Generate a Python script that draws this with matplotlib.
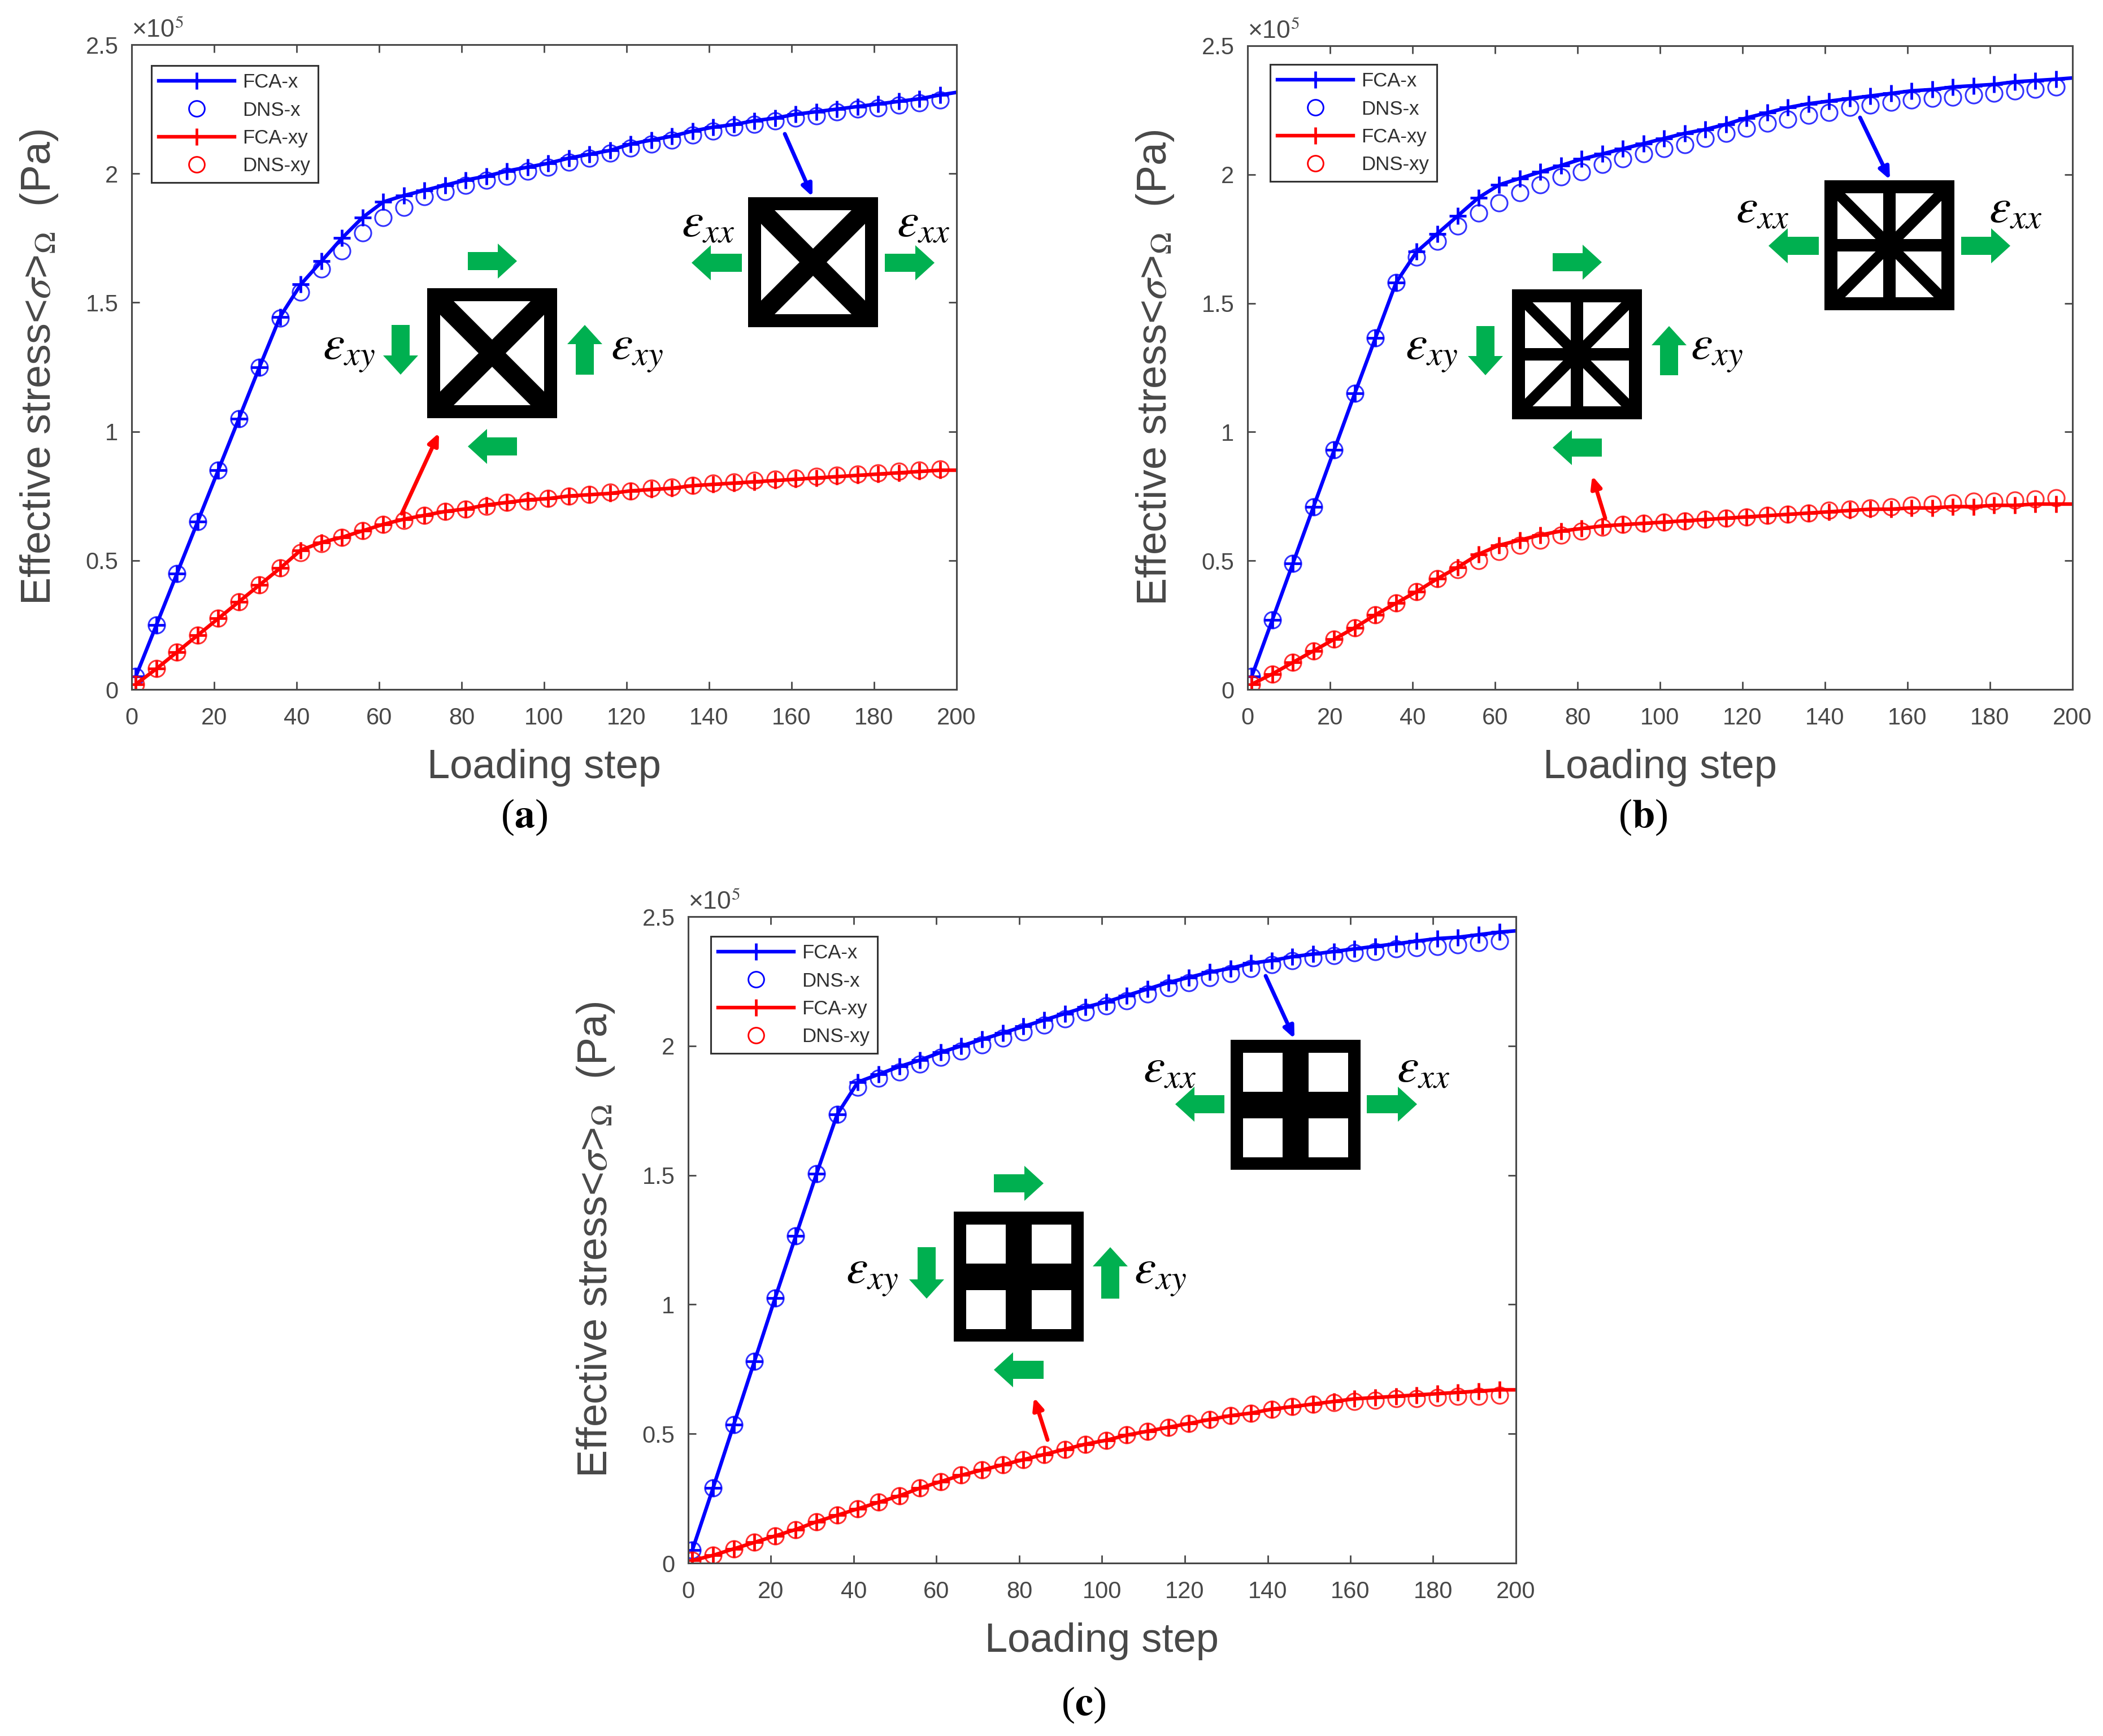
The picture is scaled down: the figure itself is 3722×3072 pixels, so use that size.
import matplotlib
matplotlib.use("Agg")
import matplotlib.pyplot as plt
from matplotlib.patches import Polygon, Rectangle
from matplotlib.lines import Line2D
import numpy as np

plt.rcParams['font.family'] = ['Liberation Sans', 'DejaVu Sans']
plt.rcParams['mathtext.fontset'] = 'stix'

W, H, DPI = 3723, 3072, 100

steps = list(range(1, 197, 5))
x_tick_values = list(range(0, 201, 20))
y_tick_values = [0, 0.5, 1, 1.5, 2, 2.5]
y_tick_labels = ['0', '0.5', '1', '1.5', '2', '2.5']

# panel (a), unit 1e5 Pa
a_fca_x = [.05,.25,.45,.65,.85,1.05,1.25,1.445,1.57,1.66,1.75,1.83,1.89,1.915,1.935,1.955,1.975,1.99,2.01,2.025,
           2.04,2.06,2.075,2.09,2.115,2.13,2.145,2.165,2.18,2.19,2.205,2.215,2.23,2.24,2.25,2.26,2.27,2.28,2.29,2.305]
a_dns_x = [.05,.25,.45,.65,.85,1.05,1.25,1.44,1.54,1.63,1.70,1.77,1.83,1.87,1.91,1.93,1.955,1.975,1.99,2.01,
           2.025,2.045,2.06,2.08,2.10,2.115,2.13,2.15,2.165,2.18,2.19,2.205,2.215,2.225,2.24,2.25,2.255,2.265,2.275,2.285]
a_fca_xy = [.02,.08,.145,.21,.275,.34,.405,.47,.54,.57,.59,.615,.64,.66,.675,.69,.70,.715,.725,.735,
            .74,.75,.755,.76,.77,.775,.78,.79,.795,.80,.805,.81,.815,.82,.825,.83,.835,.84,.845,.85]
a_dns_xy = [.02,.08,.145,.21,.275,.34,.405,.47,.53,.565,.59,.615,.64,.655,.675,.69,.70,.71,.725,.73,
            .74,.75,.755,.765,.77,.78,.785,.79,.80,.805,.81,.815,.82,.825,.83,.835,.84,.845,.85,.855]
a_end = (2.315, .85)

# panel (b)
b_fca_x = [.05,.27,.49,.71,.93,1.15,1.365,1.58,1.70,1.77,1.84,1.91,1.96,1.985,2.01,2.035,2.06,2.08,2.10,2.12,
           2.14,2.16,2.175,2.195,2.22,2.24,2.26,2.275,2.285,2.295,2.305,2.315,2.325,2.33,2.34,2.345,2.35,2.36,2.365,2.37]
b_dns_x = [.05,.27,.49,.71,.93,1.15,1.365,1.58,1.68,1.74,1.80,1.85,1.89,1.93,1.96,1.99,2.01,2.04,2.06,2.08,
           2.10,2.115,2.14,2.16,2.18,2.20,2.215,2.23,2.24,2.26,2.27,2.28,2.29,2.295,2.30,2.31,2.315,2.325,2.33,2.34]
b_fca_xy = [.02,.06,.105,.15,.195,.24,.29,.335,.38,.43,.475,.525,.56,.58,.60,.615,.625,.635,.64,.645,
            .65,.655,.66,.665,.67,.675,.68,.685,.69,.695,.70,.70,.705,.705,.71,.71,.715,.715,.72,.72]
b_dns_xy = [.02,.06,.105,.15,.195,.24,.29,.335,.38,.43,.465,.50,.535,.56,.58,.60,.615,.63,.64,.645,
            .65,.655,.66,.665,.67,.675,.68,.685,.695,.70,.705,.71,.715,.72,.725,.73,.73,.735,.74,.745]
b_end = (2.375, .72)

# panel (c)
c_fca_x = [.05,.29,.535,.78,1.025,1.265,1.505,1.735,1.86,1.89,1.92,1.945,1.975,2.0,2.025,2.05,2.075,2.10,2.125,2.15,
           2.17,2.195,2.22,2.245,2.265,2.285,2.30,2.32,2.33,2.345,2.355,2.365,2.375,2.385,2.395,2.405,2.415,2.42,2.43,2.44]
c_dns_x = [.05,.29,.535,.78,1.025,1.265,1.505,1.735,1.84,1.875,1.90,1.93,1.955,1.98,2.005,2.03,2.055,2.08,2.105,2.13,
           2.155,2.175,2.20,2.225,2.245,2.265,2.28,2.30,2.315,2.33,2.34,2.35,2.36,2.365,2.375,2.38,2.385,2.39,2.40,2.405]
c_fca_xy = [.01,.03,.055,.08,.105,.13,.16,.185,.21,.235,.26,.29,.315,.34,.36,.38,.40,.42,.44,.46,
            .475,.495,.51,.525,.54,.555,.57,.58,.595,.605,.615,.625,.635,.64,.645,.65,.655,.66,.665,.67]
c_dns_xy = [.01,.03,.055,.08,.105,.13,.16,.185,.21,.235,.26,.29,.315,.34,.36,.38,.40,.42,.44,.46,
            .475,.495,.51,.525,.54,.555,.57,.58,.595,.605,.615,.62,.625,.63,.635,.635,.64,.645,.645,.65]
c_end = (2.445, .67)

legend_labels = ['FCA-x', 'DNS-x', 'FCA-xy', 'DNS-xy']
BLUE, RED, GREEN, GRAY = '#0000FF', '#FF0000', '#00B050', '#484848'

fig = plt.figure(figsize=(W / DPI, H / DPI), dpi=DPI, facecolor='white')


def px_axes(l, t, r, b):
    return fig.add_axes([l / W, 1 - b / H, (r - l) / W, (b - t) / H])


def panel(box, fca_x, dns_x, fca_xy, dns_xy, end, legend_xy):
    l, t, r, b = box
    ax = px_axes(l, t, r, b)
    w, h = r - l, b - t
    xs = steps + [200]
    every = list(range(len(steps)))
    for fca, dns, e, col in ((fca_x, dns_x, end[0], BLUE), (fca_xy, dns_xy, end[1], RED)):
        ax.plot(xs, fca + [e], color=col, lw=4.6, marker='+', ms=22, mew=3.4, markevery=every,
                clip_on=True, solid_capstyle='butt')
        ax.plot(steps, dns, ls='none', marker='o', mfc='none', mec=col, ms=21, mew=2.2, alpha=.8)
    ax.set_xlim(0, 200)
    ax.set_ylim(0, 2.5)
    ax.set_xticks(x_tick_values)
    ax.set_yticks(y_tick_values)
    ax.set_yticklabels(y_tick_labels)
    ax.tick_params(direction='in', length=10, width=2, top=True, right=True, color=GRAY,
                   labelcolor=GRAY, labelsize=30)
    ax.tick_params(axis='x', pad=22)
    ax.tick_params(axis='y', pad=17)
    for s in ax.spines.values():
        s.set_color(GRAY)
        s.set_linewidth(2.2)
    ax.set_xlabel('Loading step', fontsize=52, color=GRAY)
    ax.xaxis.set_label_coords(.5, -105 / h)
    ax.set_ylabel(r'Effective stress<$\sigma$>$_{\Omega}$  (Pa)', fontsize=53, color=GRAY)
    ax.yaxis.set_label_coords(-127 / w, .5)
    ax.text(0, 25 / h + 1, '×10$^{5}$', transform=ax.transAxes, fontsize=32, color=GRAY,
            ha='left', va='center')
    handles = [Line2D([], [], color=BLUE, lw=4.6, marker='+', ms=22, mew=3.4),
               Line2D([], [], ls='none', color=BLUE, marker='o', mfc='none', ms=20, mew=2.1),
               Line2D([], [], color=RED, lw=4.6, marker='+', ms=22, mew=3.4),
               Line2D([], [], ls='none', color=RED, marker='o', mfc='none', ms=20, mew=2.1)]
    leg = ax.legend(handles, legend_labels, loc='upper left',
                    bbox_to_anchor=((legend_xy[0] - l) / w, 1 - (legend_xy[1] - t) / h),
                    fontsize=25, handlelength=3.85, labelspacing=.47, borderpad=.38, borderaxespad=0,
                    handletextpad=.42, fancybox=False, framealpha=1, edgecolor='#333333', labelcolor='#303030')
    leg.get_frame().set_linewidth(2.2)
    return ax


panel((233, 79, 1693, 1220), a_fca_x, a_dns_x, a_fca_xy, a_dns_xy, a_end, (268, 116))
panel((2208, 81, 3668, 1220), b_fca_x, b_dns_x, b_fca_xy, b_dns_xy, b_end, (2248, 114))
panel((1218, 1622, 2683, 2766), c_fca_x, c_dns_x, c_fca_xy, c_dns_xy, c_end, (1258, 1657))

# overlay in image pixel coordinates for the pictograms
ov = fig.add_axes([0, 0, 1, 1], zorder=10)
ov.set_xlim(0, W)
ov.set_ylim(H, 0)
ov.axis('off')
ov.patch.set_alpha(0)


def harrow(x0, x1, y):
    s = 1 if x1 > x0 else -1
    neck = x1 - s * 34
    pts = [(x0, y - 16), (neck, y - 16), (neck, y - 31), (x1, y), (neck, y + 31), (neck, y + 16), (x0, y + 16)]
    ov.add_patch(Polygon(pts, closed=True, fc=GREEN, ec='none'))


def varrow(x, y0, y1):
    s = 1 if y1 > y0 else -1
    neck = y1 - s * 34
    pts = [(x - 16, y0), (x - 16, neck), (x - 31, neck), (x, y1), (x + 31, neck), (x + 16, neck), (x + 16, y0)]
    ov.add_patch(Polygon(pts, closed=True, fc=GREEN, ec='none'))


def label(x, y, s):
    ov.text(x, y, s, fontsize=62, ha='center', va='center', color='black')


def thick(x0, y0, x1, y1, width, clip):
    ln = Line2D([x0, x1], [y0, y1], color='black', lw=width * 72 / DPI, solid_capstyle='butt')
    ov.add_line(ln)
    ln.set_clip_path(clip)


def cell(cx, cy, kind, s=115):
    ov.add_patch(Rectangle((cx - s, cy - s), 2 * s, 2 * s, fc='black', ec='none'))
    if kind == 'c':
        for ox, oy in ((-93, -92), (23, -92), (-93, 24), (23, 24)):
            ov.add_patch(Rectangle((cx + ox, cy + oy), 70, 69, fc='white', ec='none'))
        return
    m = s - 23
    clip = Rectangle((cx - m, cy - m), 2 * m, 2 * m, fc='white', ec='none')
    ov.add_patch(clip)
    wd = 34 if kind == 'a' else 19
    thick(cx - s, cy - s, cx + s, cy + s, wd, clip)
    thick(cx - s, cy + s, cx + s, cy - s, wd, clip)
    if kind == 'b':
        thick(cx, cy - s, cx, cy + s, 22, clip)
        thick(cx - s, cy, cx + s, cy, 22, clip)


def pointer(x0, y0, x1, y1, col):
    ov.annotate('', xy=(x1, y1), xytext=(x0, y0),
                arrowprops=dict(arrowstyle='-|>,head_length=1.25,head_width=.55', color=col, lw=5,
                                shrinkA=0, shrinkB=0))


XX = r'$\varepsilon_{xx}$'
XY = r'$\varepsilon_{xy}$'

# (a)
cell(1439, 464, 'a'); cell(871, 625, 'a')
harrow(1313, 1224, 465); harrow(1566, 1654, 465)
harrow(828, 915, 462); harrow(915, 828, 790)
varrow(709, 575, 663); varrow(1035, 663, 575)
label(1253, 396, XX); label(1634, 396, XX); label(617, 622, XY); label(1127, 622, XY)
pointer(1389, 237, 1438, 348, BLUE); pointer(711, 909, 777, 766, RED)

# (b)
cell(3344, 434, 'b'); cell(2791, 627, 'b')
harrow(3219, 3130, 435); harrow(3471, 3558, 435)
harrow(2748, 2835, 464); harrow(2835, 2748, 792)
varrow(2629, 577, 664); varrow(2954, 664, 577)
label(3119, 371, XX); label(3567, 371, XX); label(2533, 622, XY); label(3038, 622, XY)
pointer(3292, 208, 3345, 318, BLUE); pointer(2841, 917, 2818, 842, RED)

# (c)
cell(2293, 1955, 'c'); cell(1803, 2259, 'c')
harrow(2167, 2080, 1954); harrow(2419, 2508, 1954)
harrow(1759, 1847, 2094); harrow(1847, 1759, 2424)
varrow(1640, 2207, 2298); varrow(1965, 2298, 2207)
label(2070, 1892, XX); label(2519, 1892, XX); label(1543, 2257, XY); label(2053, 2257, XY)
pointer(2240, 1727, 2291, 1838, BLUE); pointer(1854, 2548, 1830, 2473, RED)

for x, y, c in ((928, 1446, 'a'), (2908, 1446, 'b'), (1918, 3017, 'c')):
    ov.text(x, y, '($\\mathbf{%s}$)' % c, fontsize=52, family='Liberation Serif', ha='center', va='center',
            color='black')

fig.savefig('out.png', dpi=DPI, facecolor='white')
